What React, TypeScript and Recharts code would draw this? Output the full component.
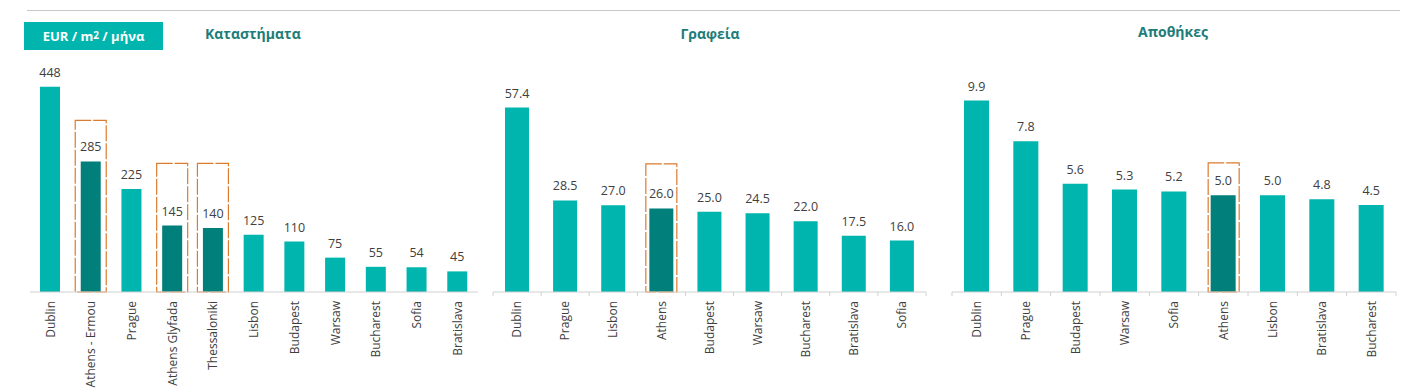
import { BarChart, Bar, XAxis, YAxis, Cell, LabelList } from "recharts"

const TEAL = "#00b5ae"
const DARK_TEAL = "#007f7b"
const FRAME = "#db7b2e"
const TEXT = "#404040"
const TITLE = "#1d7c78"
const FONT = "'Open Sans', 'Noto Sans', sans-serif"

// Καταστήματα (retail)
const retailCities = ["Dublin", "Athens - Ermou", "Prague", "Athens Glyfada", "Thessaloniki", "Lisbon", "Budapest", "Warsaw", "Bucharest", "Sofia", "Bratislava"]
const retailRents = [448, 285, 225, 145, 140, 125, 110, 75, 55, 54, 45]
const retailFrames = [null, 376, null, 282, 282, null, null, null, null, null, null]

// Γραφεία (offices)
const officeCities = ["Dublin", "Prague", "Lisbon", "Athens", "Budapest", "Warsaw", "Bucharest", "Bratislava", "Sofia"]
const officeRents = [57.4, 28.5, 27.0, 26.0, 25.0, 24.5, 22.0, 17.5, 16.0]
const officeFrames = [null, null, null, 40, null, null, null, null, null]

// Αποθήκες (warehouses)
const warehouseCities = ["Dublin", "Prague", "Budapest", "Warsaw", "Sofia", "Athens", "Lisbon", "Bratislava", "Bucharest"]
const warehouseRents = [9.9, 7.8, 5.6, 5.3, 5.2, 5.0, 5.0, 4.8, 4.5]
const warehouseFrames = [null, null, null, null, null, 6.7, null, null, null]

type Row = { city: string; value: number; frame: number | null }

const toRows = (cities: string[], values: number[], frames: (number | null)[]): Row[] =>
  cities.map((city, i) => ({ city, value: values[i], frame: frames[i] }))

function FrameShape(props: any) {
  const { x, y, width, height, payload } = props
  if (payload.frame == null || !height) return <g />
  return (
    <rect
      x={x + 0.5}
      y={y + 0.5}
      width={width - 1}
      height={height - 0.5}
      fill="none"
      stroke={FRAME}
      strokeWidth={1.2}
      strokeDasharray="16 2"
    />
  )
}

function makeTick(step: number, count: number, showTicks: boolean) {
  return function CityTick(props: any) {
    const { x, y, payload, index } = props
    return (
      <g>
        {showTicks && <line x1={x - step / 2} x2={x - step / 2} y1={y - 8} y2={y - 4} stroke="#d0d0d0" />}
        {showTicks && index === count - 1 && (
          <line x1={x + step / 2} x2={x + step / 2} y1={y - 8} y2={y - 4} stroke="#d0d0d0" />
        )}
        <text
          x={0}
          y={0}
          dy="0.35em"
          textAnchor="end"
          fontSize={12}
          fontFamily={FONT}
          fill={TEXT}
          transform={`translate(${x},${y + 1}) rotate(-90)`}
        >
          {payload.value}
        </text>
      </g>
    )
  }
}

interface PanelProps {
  data: Row[]
  left: number
  width: number
  plotLeft: number
  plotWidth: number
  top: number
  max: number
  barSize: number
  decimals: number
  showTicks: boolean
}

function Panel({ data, left, width, plotLeft, plotWidth, top, max, barSize, decimals, showTicks }: PanelProps) {
  const step = plotWidth / data.length
  return (
    <div style={{ position: "absolute", left, top: 0 }}>
      <BarChart
        width={width}
        height={392}
        data={data}
        margin={{ top, left: plotLeft, right: width - plotLeft - plotWidth, bottom: 10 }}
      >
        <XAxis
          dataKey="city"
          interval={0}
          height={90}
          axisLine={{ stroke: "#d0d0d0" }}
          tickLine={false}
          tick={makeTick(step, data.length, showTicks)}
        />
        <XAxis xAxisId="frame" dataKey="city" hide />
        <YAxis hide domain={[0, max]} />
        <Bar dataKey="value" barSize={barSize} isAnimationActive={false}>
          {data.map((d, i) => (
            <Cell key={i} fill={d.frame != null ? DARK_TEAL : TEAL} />
          ))}
          <LabelList
            dataKey="value"
            position="top"
            offset={10}
            fontSize={12.5}
            fontFamily={FONT}
            fill={TEXT}
            formatter={(v: any) => Number(v).toFixed(decimals)}
          />
        </Bar>
        <Bar dataKey="frame" xAxisId="frame" barSize={32} isAnimationActive={false} shape={FrameShape} />
      </BarChart>
    </div>
  )
}

const titleStyle: React.CSSProperties = {
  position: "absolute",
  top: 24,
  fontFamily: FONT,
  fontSize: 14,
  fontWeight: 700,
  color: TITLE,
  whiteSpace: "nowrap",
}

export default function App() {
  return (
    <div style={{ position: "absolute", left: 0, top: 0, width: 1409, height: 392, background: "#fff", fontFamily: FONT }}>
      <div style={{ position: "absolute", left: 27, top: 10, width: 1373, height: 1, background: "#c8c8c8" }} />
      <div
        style={{
          position: "absolute",
          left: 24,
          top: 22,
          width: 139,
          height: 28,
          background: TEAL,
          color: "#fff",
          fontSize: 13,
          fontWeight: 700,
          display: "flex",
          alignItems: "center",
          justifyContent: "center",
          whiteSpace: "nowrap",
        }}
      >
        EUR / m<sup style={{ fontSize: 10, lineHeight: 0, position: "relative", top: -1 }}>2</sup>&nbsp;/ μήνα
      </div>
      <div style={{ ...titleStyle, left: 205 }}>Καταστήματα</div>
      <div style={{ ...titleStyle, left: 710, transform: "translateX(-50%)" }}>Γραφεία</div>
      <div style={{ ...titleStyle, left: 1173, top: 22, transform: "translateX(-50%)" }}>Αποθήκες</div>

      <Panel
        data={toRows(retailCities, retailRents, retailFrames)}
        left={0}
        width={480}
        plotLeft={30}
        plotWidth={448}
        top={63}
        max={500}
        barSize={20}
        decimals={0}
        showTicks={false}
      />
      <Panel
        data={toRows(officeCities, officeRents, officeFrames)}
        left={480}
        width={460}
        plotLeft={13}
        plotWidth={433}
        top={67}
        max={70}
        barSize={24}
        decimals={1}
        showTicks={true}
      />
      <Panel
        data={toRows(warehouseCities, warehouseRents, warehouseFrames)}
        left={940}
        width={469}
        plotLeft={12}
        plotWidth={444}
        top={60}
        max={12}
        barSize={25}
        decimals={1}
        showTicks={true}
      />
    </div>
  )
}
